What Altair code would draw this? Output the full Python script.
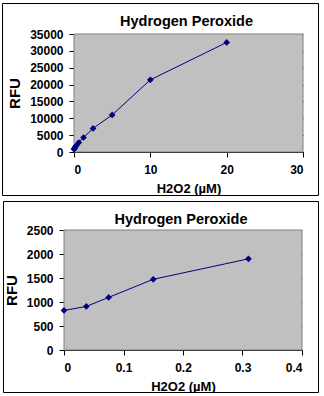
import altair as alt
import pandas as pd

# Top chart data (full range)
top_x = [0, 0.0375, 0.075, 0.15, 0.31, 0.625, 1.25, 2.5, 5, 10, 20]
top_y = [824, 908, 1096, 1473, 1899, 2800, 4300, 7000, 11000, 21400, 32500]

# Bottom chart data (low range)
bot_x = [0, 0.0375, 0.075, 0.15, 0.31]
bot_y = [824, 908, 1096, 1473, 1899]

title_text = "Hydrogen Peroxide"
x_title = "H2O2 (µM)"
y_title = "RFU"

NAVY = "#000080"
GRAY = "#C0C0C0"
FONT = "Liberation Sans"


def panel(xs, ys, xmax, xstep, ymax, ystep, w, h, shift, box, title_y, xfmt):
    """shift: how many pixels the visible plot area starts left of the view origin."""
    df = pd.DataFrame({"x": xs, "y": ys})
    xs_ticks = [round(i * xstep, 6) for i in range(int(round(xmax / xstep)) + 1)]
    ys_ticks = [i * ystep for i in range(int(round(ymax / ystep)) + 1)]
    xenc = alt.X("x:Q", scale=alt.Scale(domain=[0, xmax], nice=False, range=[-shift, w]),
                 axis=alt.Axis(values=xs_ticks, title=x_title, format=xfmt, grid=False,
                               labelOverlap=False,
                               domainColor="black", tickColor="black", tickSize=5,
                               labelFont=FONT, labelFontSize=12, labelFontWeight="bold",
                               labelColor="black", labelPadding=7,
                               titleFont=FONT, titleFontSize=13, titleFontWeight="bold",
                               titleColor="black", titlePadding=7))
    yenc = alt.Y("y:Q", scale=alt.Scale(domain=[0, ymax], nice=False),
                 axis=alt.Axis(values=ys_ticks, title=y_title, format="d", grid=True,
                               labelOverlap=False, offset=shift,
                               gridColor="black", gridWidth=1, gridOpacity=1,
                               domainColor="black", tickColor="black", tickSize=5,
                               labelFont=FONT, labelFontSize=12, labelFontWeight="bold",
                               labelColor="black", labelPadding=6,
                               titleFont=FONT, titleFontSize=15, titleFontWeight="bold",
                               titleColor="black", titlePadding=7))
    one = alt.Chart(pd.DataFrame({"a": [0]}))
    plot_bg = one.mark_rect(fill=GRAY, stroke="#808080", strokeWidth=1).encode(
        x=alt.value(-shift), x2=alt.value(w), y=alt.value(0), y2=alt.value(h))
    base = alt.Chart(df).encode(x=xenc, y=yenc)
    line = base.mark_line(color=NAVY, strokeWidth=1)
    pts = base.mark_point(shape="diamond", filled=True, color=NAVY, size=45, opacity=1)
    x0, x1, y0, y1 = box
    edges = [
        one.mark_rule(color="black", strokeWidth=1).encode(x=alt.value(x0), x2=alt.value(x1), y=alt.value(y0)),
        one.mark_rule(color="black", strokeWidth=1).encode(x=alt.value(x0), x2=alt.value(x1), y=alt.value(y1)),
        one.mark_rule(color="black", strokeWidth=1).encode(x=alt.value(x0), y=alt.value(y0), y2=alt.value(y1)),
        one.mark_rule(color="black", strokeWidth=1).encode(x=alt.value(x1), y=alt.value(y0), y2=alt.value(y1)),
    ]
    title = one.mark_text(font=FONT, fontSize=14.5, fontWeight="bold", color="black",
                          align="center", baseline="alphabetic").encode(
        x=alt.value((w - shift) / 2 - 2), y=alt.value(title_y), text=alt.value(title_text))
    return alt.layer(plot_bg, line, pts, title, *edges).properties(
        width=w, height=h, view=alt.ViewBackground(fill=None, stroke=None))


top = panel(top_x, top_y, 30, 10, 35000, 5000, 229, 118, 0,
            (-71.5, 244.5, -30.5, 161.5), -8, "d")
bottom = panel(bot_x, bot_y, 0.4, 0.1, 2500, 500, 228, 120, 10,
               (-70.5, 244.5, -28.5, 162.5), -6, "~g")

chart = alt.vconcat(top, bottom, spacing=5).configure(
    background="white", padding={"left": 2, "top": 3, "right": 0, "bottom": 0}
)

chart.save("out.html", embed_options={"renderer": "svg", "actions": False})
